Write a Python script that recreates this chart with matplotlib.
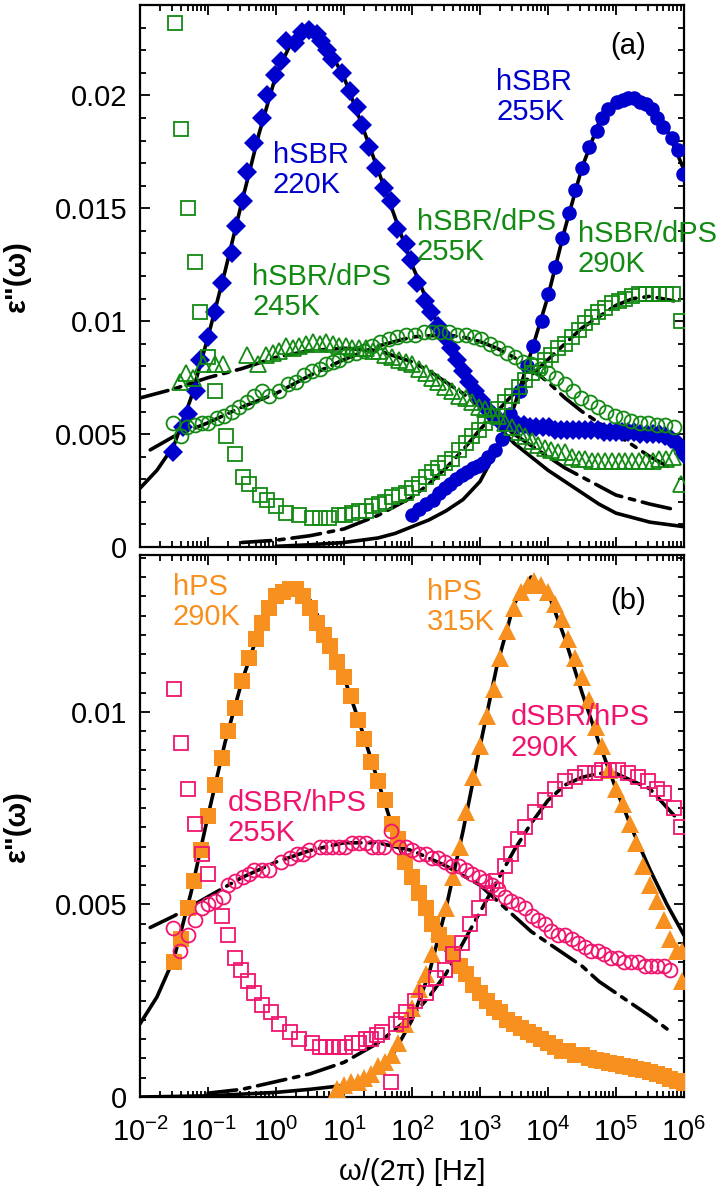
import numpy as np
from matplotlib import pyplot as plt
from matplotlib.ticker import FuncFormatter, LogLocator, MultipleLocator, NullFormatter

plt.rcParams['font.family'] = ['Liberation Sans', 'DejaVu Sans']
plt.rcParams['mathtext.fontset'] = 'custom'
plt.rcParams['mathtext.rm'] = 'Liberation Sans'
plt.rcParams['mathtext.it'] = 'Liberation Sans:italic'

BLUE = '#0000cc'
GREEN = '#138a13'
ORANGE = '#f7901e'
PINK = '#f0146e'

# ---------------- panel (a): hSBR and hSBR/dPS ----------------
# log10 of frequency [Hz] and eps''
a_hsbr220_logf = [-1.52, -1.37, -1.30, -1.18, -1.12, -1.00, -0.90, -0.80, -0.65, -0.59,
                  -0.49, -0.43, -0.32, -0.21, -0.13, -0.02, 0.08, 0.15, 0.28, 0.38,
                  0.49, 0.60, 0.66, 0.75, 0.83, 0.97, 1.09, 1.19, 1.27, 1.37,
                  1.47, 1.59, 1.69, 1.78, 1.91, 1.98, 2.07, 2.19, 2.28, 2.39,
                  2.48, 2.57, 2.66, 2.75, 2.84, 2.93, 3.02, 3.11, 3.20, 3.29,
                  3.38, 3.47, 3.56, 3.65, 3.74, 3.83, 3.92, 4.01, 4.10, 4.19,
                  4.28, 4.37, 4.46, 4.55, 4.64, 4.73, 4.82, 4.91, 5.00, 5.09,
                  5.18, 5.27, 5.36, 5.45, 5.54, 5.63, 5.72, 5.81, 5.90, 6.00]
a_hsbr220_eps = [0.0042, 0.0053, 0.0059, 0.0069, 0.0083, 0.0093, 0.0104, 0.0117, 0.0130, 0.0142,
                 0.0153, 0.0166, 0.0179, 0.0190, 0.0200, 0.0209, 0.0215, 0.0224, 0.0223, 0.0228,
                 0.0229, 0.0227, 0.0224, 0.0220, 0.0216, 0.0210, 0.0202, 0.0195, 0.0187, 0.0177,
                 0.0168, 0.0159, 0.0153, 0.0141, 0.0134, 0.0127, 0.0117, 0.0109, 0.0104, 0.0098,
                 0.0093, 0.0088, 0.0083, 0.0078, 0.0073, 0.0069, 0.0065, 0.0061, 0.0058, 0.0056,
                 0.0055, 0.0055, 0.0054, 0.0054, 0.0053, 0.0053, 0.0053, 0.0053, 0.0052, 0.0052,
                 0.0052, 0.0052, 0.0052, 0.0052, 0.0052, 0.0052, 0.0051, 0.0051, 0.0051, 0.0051,
                 0.0051, 0.0051, 0.0050, 0.0050, 0.0050, 0.0050, 0.0049, 0.0048, 0.0046, 0.0041]

a_hsbr255_logf = [2.00, 2.10, 2.20, 2.31, 2.40, 2.48, 2.56, 2.65, 2.73, 2.81,
                  2.90, 2.97, 3.04, 3.12, 3.22, 3.32, 3.44, 3.59, 3.69, 3.78,
                  3.91, 4.00, 4.10, 4.21, 4.31, 4.40, 4.50, 4.60, 4.72, 4.79,
                  4.88, 5.01, 5.10, 5.18, 5.27, 5.35, 5.44, 5.53, 5.61, 5.69,
                  5.82, 5.91, 5.99]
a_hsbr255_eps = [0.0014, 0.0017, 0.0019, 0.0021, 0.0024, 0.0026, 0.0028, 0.0030, 0.0032, 0.0033,
                 0.0035, 0.0036, 0.0037, 0.0040, 0.0043, 0.0048, 0.0059, 0.0069, 0.0080, 0.0089,
                 0.0100, 0.0112, 0.0124, 0.0137, 0.0148, 0.0158, 0.0168, 0.0177, 0.0184, 0.0190,
                 0.0194, 0.0197, 0.0198, 0.0199, 0.0199, 0.0197, 0.0196, 0.0194, 0.0190, 0.0186,
                 0.0181, 0.0176, 0.0165]

a_blend245_logf = [-1.41, -1.32, -1.22, -1.08, -0.90, -0.78, -0.42, -0.27, -0.14, -0.05,
                   0.05, 0.15, 0.25, 0.34, 0.44, 0.54, 0.64, 0.74, 0.84, 0.93,
                   1.03, 1.12, 1.22, 1.32, 1.42, 1.51, 1.61, 1.71, 1.81, 1.91,
                   2.00, 2.10, 2.20, 2.29, 2.39, 2.49, 2.59, 2.69, 2.79, 2.88,
                   2.98, 3.08, 3.18, 3.27, 3.37, 3.47, 3.57, 3.66, 3.76, 3.86,
                   3.96, 4.05, 4.15, 4.25, 4.35, 4.45, 4.55, 4.65, 4.74, 4.84,
                   4.94, 5.04, 5.14, 5.24, 5.34, 5.44, 5.54, 5.64, 5.74, 5.84, 5.96]
a_blend245_eps = [0.0073, 0.0077, 0.0075, 0.0081, 0.0081, 0.0081, 0.0085, 0.0081, 0.0085, 0.0086,
                  0.0087, 0.0089, 0.0088, 0.0089, 0.0090, 0.0091, 0.0090, 0.0091, 0.0090, 0.0089,
                  0.0089, 0.0088, 0.0088, 0.0088, 0.0087, 0.0087, 0.0085, 0.0084, 0.0083, 0.0082,
                  0.0081, 0.0079, 0.0077, 0.0075, 0.0073, 0.0071, 0.0069, 0.0067, 0.0066, 0.0064,
                  0.0062, 0.0061, 0.0059, 0.0058, 0.0055, 0.0053, 0.0051, 0.0049, 0.0047, 0.0045,
                  0.0044, 0.0043, 0.0042, 0.0042, 0.0040, 0.0039, 0.0039, 0.0038, 0.0038, 0.0038,
                  0.0038, 0.0038, 0.0038, 0.0038, 0.0038, 0.0038, 0.0038, 0.0039, 0.0039, 0.0040, 0.0028]

a_blend255_logf = [-1.51, -1.39, -1.31, -1.19, -1.09, -1.00, -0.87, -0.76, -0.65, -0.54,
                   -0.43, -0.32, -0.20, -0.10, 0.05, 0.17, 0.30, 0.41, 0.53, 0.64,
                   0.74, 0.84, 0.93, 1.05, 1.18, 1.29, 1.41, 1.53, 1.66, 1.78,
                   1.91, 2.05, 2.17, 2.29, 2.41, 2.54, 2.66, 2.79, 2.91, 3.02,
                   3.15, 3.27, 3.40, 3.52, 3.64, 3.75, 3.88, 4.00, 4.12, 4.25,
                   4.37, 4.49, 4.62, 4.74, 4.86, 4.98, 5.10, 5.22, 5.35, 5.47,
                   5.60, 5.72, 5.86]
a_blend255_eps = [0.0055, 0.0049, 0.0053, 0.0054, 0.0055, 0.0055, 0.0057, 0.0058, 0.0060, 0.0062,
                  0.0064, 0.0067, 0.0069, 0.0067, 0.0069, 0.0072, 0.0073, 0.0076, 0.0078, 0.0079,
                  0.0081, 0.0082, 0.0083, 0.0085, 0.0086, 0.0087, 0.0089, 0.0091, 0.0092, 0.0093,
                  0.0094, 0.0094, 0.0095, 0.0095, 0.0095, 0.0095, 0.0094, 0.0094, 0.0093, 0.0092,
                  0.0090, 0.0088, 0.0086, 0.0084, 0.0082, 0.0081, 0.0079, 0.0077, 0.0075, 0.0072,
                  0.0069, 0.0066, 0.0064, 0.0062, 0.0060, 0.0058, 0.0057, 0.0056, 0.0055, 0.0055,
                  0.0054, 0.0054, 0.0053]

a_blend290_logf = [-1.49, -1.39, -1.30, -1.19, -1.12, -1.00, -0.90, -0.73, -0.61, -0.49,
                   -0.39, -0.24, -0.13, 0.00, 0.15, 0.34, 0.53, 0.65, 0.78, 0.93,
                   1.02, 1.12, 1.22, 1.32, 1.41, 1.51, 1.61, 1.70, 1.81, 1.91,
                   2.00, 2.10, 2.20, 2.29, 2.39, 2.49, 2.59, 2.69, 2.79, 2.88,
                   2.98, 3.08, 3.18, 3.27, 3.37, 3.47, 3.57, 3.66, 3.76, 3.86,
                   3.96, 4.05, 4.15, 4.25, 4.35, 4.45, 4.55, 4.65, 4.74, 4.84,
                   4.94, 5.04, 5.14, 5.24, 5.34, 5.44, 5.54, 5.64, 5.74, 5.84, 5.96]
a_blend290_eps = [0.0232, 0.0185, 0.0150, 0.0126, 0.0104, 0.0084, 0.0069, 0.0049, 0.0041, 0.0031,
                  0.0028, 0.0023, 0.0021, 0.0018, 0.0015, 0.0014, 0.0013, 0.0013, 0.0013, 0.0014,
                  0.0014, 0.0015, 0.0016, 0.0016, 0.0018, 0.0019, 0.0020, 0.0022, 0.0023, 0.0024,
                  0.0026, 0.0028, 0.0031, 0.0033, 0.0035, 0.0037, 0.0039, 0.0043, 0.0046, 0.0049,
                  0.0052, 0.0055, 0.0058, 0.0061, 0.0064, 0.0067, 0.0071, 0.0074, 0.0077, 0.0080,
                  0.0083, 0.0085, 0.0088, 0.0090, 0.0093, 0.0096, 0.0099, 0.0102, 0.0104, 0.0106,
                  0.0108, 0.0109, 0.0110, 0.0111, 0.0112, 0.0112, 0.0112, 0.0112, 0.0112, 0.0112, 0.0100]

# fit curves, panel (a)
a_fit220_logf = [-2.0, -1.75, -1.5, -1.25, -1.0, -0.75, -0.5, -0.25, 0.0, 0.25, 0.5, 0.75,
                 1.0, 1.25, 1.5, 1.75, 2.0, 2.25, 2.5, 2.75, 3.0, 3.25, 3.5, 3.75, 4.0,
                 4.25, 4.5, 4.75, 5.0, 5.25, 5.5, 5.75, 6.0]
a_fit220_eps = [0.0026, 0.0034, 0.0045, 0.0066, 0.0093, 0.0122, 0.0153, 0.0183, 0.0209, 0.0225,
                0.0229, 0.0222, 0.0208, 0.0188, 0.0167, 0.0146, 0.0125, 0.0107, 0.0091, 0.0076,
                0.0063, 0.0054, 0.0046, 0.0040, 0.0034, 0.0029, 0.0024, 0.0019, 0.0015, 0.0013,
                0.0011, 0.0010, 0.0009]
a_fit255_logf = [0.0, 0.5, 1.0, 1.5, 1.75, 2.0, 2.25, 2.5, 2.75, 3.0, 3.25, 3.5, 3.75, 4.0,
                 4.25, 4.5, 4.75, 5.0, 5.25, 5.5, 5.75, 6.0]
a_fit255_eps = [0.00003, 0.0001, 0.0002, 0.0004, 0.0006, 0.0009, 0.0012, 0.0016, 0.0021, 0.0029,
                0.0043, 0.0062, 0.0086, 0.0111, 0.0141, 0.0168, 0.0188, 0.0198, 0.0200, 0.0196,
                0.0185, 0.0167]
a_fit245_logf = [-2.0, -1.5, -1.0, -0.5, 0.0, 0.5, 1.0, 1.5, 2.0, 2.25, 2.5, 2.75, 3.0, 3.25,
                 3.5, 3.75, 4.0, 4.25, 4.5, 4.75, 5.0, 5.25, 5.5, 5.8]
a_fit245_eps = [0.0066, 0.0070, 0.0075, 0.0079, 0.0084, 0.0087, 0.0088, 0.0087, 0.0082, 0.0078,
                0.0073, 0.0068, 0.0062, 0.0056, 0.0050, 0.0045, 0.0040, 0.0035, 0.0031, 0.0027,
                0.0023, 0.0021, 0.0019, 0.0017]
a_fitb255_logf = [-1.85, -1.5, -1.0, -0.5, 0.0, 0.5, 1.0, 1.5, 2.0, 2.5, 2.75, 3.0, 3.25, 3.5,
                  3.75, 4.0, 4.25, 4.5, 4.75, 5.0, 5.25, 5.5, 5.8]
a_fitb255_eps = [0.0043, 0.0049, 0.0055, 0.0062, 0.0068, 0.0076, 0.0083, 0.0089, 0.0093, 0.0094,
                 0.0093, 0.0091, 0.0088, 0.0084, 0.0079, 0.0073, 0.0066, 0.0060, 0.0055, 0.0050,
                 0.0045, 0.0040, 0.0035]
a_fitb290_logf = [-0.5, 0.0, 0.5, 1.0, 1.5, 1.75, 2.0, 2.25, 2.5, 2.75, 3.0, 3.25, 3.5, 3.75,
                  4.0, 4.25, 4.5, 4.75, 5.0, 5.25, 5.5, 5.85]
a_fitb290_eps = [0.0002, 0.0003, 0.0005, 0.0008, 0.0014, 0.0018, 0.0022, 0.0028, 0.0035, 0.0043,
                 0.0052, 0.0060, 0.0068, 0.0076, 0.0083, 0.0090, 0.0097, 0.0102, 0.0107, 0.0110,
                 0.0111, 0.0109]

# ---------------- panel (b): hPS and dSBR/hPS ----------------
b_hps290_logf = [-1.5, -1.4, -1.3, -1.2, -1.1, -1.0, -0.9, -0.8, -0.7, -0.6,
                 -0.5, -0.4, -0.3, -0.2, -0.1, 0.0, 0.1, 0.2, 0.3, 0.4,
                 0.5, 0.6, 0.7, 0.8, 0.9, 1.0, 1.1, 1.2, 1.3, 1.4,
                 1.5, 1.6, 1.7, 1.8, 1.9, 2.0, 2.1, 2.2, 2.3, 2.4,
                 2.5, 2.6, 2.7, 2.8, 2.9, 3.0, 3.1, 3.2, 3.3, 3.4,
                 3.5, 3.6, 3.7, 3.8, 3.9, 4.0, 4.1, 4.2, 4.3, 4.4,
                 4.5, 4.6, 4.7, 4.8, 4.9, 5.0, 5.1, 5.2, 5.3, 5.4,
                 5.5, 5.6, 5.7, 5.8, 5.9, 6.0]
b_hps290_eps = [0.0035, 0.0041, 0.0049, 0.0056, 0.0064, 0.0073, 0.0081, 0.0088, 0.0095, 0.0101,
                0.0108, 0.0114, 0.0119, 0.0123, 0.0127, 0.0130, 0.0131, 0.0132, 0.0132, 0.0130,
                0.0127, 0.0123, 0.0120, 0.0117, 0.0113, 0.0109, 0.0104, 0.0098, 0.0093, 0.0087,
                0.0082, 0.0077, 0.0071, 0.0067, 0.0061, 0.0057, 0.0053, 0.0049, 0.0045, 0.0042,
                0.0040, 0.0037, 0.0034, 0.0032, 0.0029, 0.0027, 0.0025, 0.0023, 0.0022, 0.0020,
                0.0019, 0.0018, 0.0017, 0.0016, 0.0015, 0.0014, 0.0013, 0.0012, 0.0012, 0.0011,
                0.0011, 0.0010, 0.00097, 0.00093, 0.00089, 0.00085, 0.00081, 0.00078, 0.00074, 0.00069,
                0.00065, 0.00060, 0.00055, 0.00048, 0.00042, 0.00036]

b_hps315_logf = [0.9, 1.0, 1.1, 1.2, 1.3, 1.4, 1.5, 1.6, 1.7, 1.8,
                 1.9, 2.0, 2.1, 2.2, 2.3, 2.4, 2.5, 2.6, 2.7, 2.8,
                 2.9, 3.0, 3.1, 3.2, 3.3, 3.4, 3.5, 3.6, 3.7, 3.8,
                 3.9, 4.0, 4.1, 4.2, 4.3, 4.4, 4.5, 4.6, 4.7, 4.8,
                 4.9, 5.0, 5.1, 5.2, 5.3, 5.4, 5.5, 5.6, 5.7, 5.8,
                 5.9, 5.97, 5.97]
b_hps315_eps = [0.0002, 0.0003, 0.0004, 0.0004, 0.0005, 0.0006, 0.0008, 0.0009, 0.0011, 0.0014,
                0.0019, 0.0023, 0.0028, 0.0032, 0.0037, 0.0043, 0.0049, 0.0057, 0.0065, 0.0074,
                0.0083, 0.0091, 0.0099, 0.0106, 0.0114, 0.0121, 0.0127, 0.0131, 0.0133, 0.0134,
                0.0133, 0.0131, 0.0128, 0.0124, 0.0119, 0.0114, 0.0109, 0.0103, 0.0096, 0.0091,
                0.0085, 0.0080, 0.0076, 0.0071, 0.0066, 0.0060, 0.0055, 0.0051, 0.0046, 0.0041,
                0.0038, 0.0038, 0.0030]

b_blend255_logf = [-1.51, -1.41, -1.29, -1.19, -1.09, -1.00, -0.90, -0.78, -0.71, -0.61,
                   -0.49, -0.40, -0.32, -0.20, -0.10, 0.08, 0.20, 0.31, 0.40, 0.49,
                   0.64, 0.74, 0.83, 0.93, 1.02, 1.12, 1.22, 1.32, 1.41, 1.50,
                   1.59, 1.69, 1.81, 1.91, 2.00, 2.10, 2.20, 2.29, 2.39, 2.49,
                   2.59, 2.69, 2.79, 2.88, 2.98, 3.08, 3.18, 3.27, 3.37, 3.46,
                   3.56, 3.66, 3.76, 3.86, 3.96, 4.05, 4.15, 4.25, 4.35, 4.44,
                   4.54, 4.63, 4.73, 4.83, 4.93, 5.03, 5.12, 5.22, 5.32, 5.42,
                   5.51, 5.61, 5.71, 5.80]
b_blend255_eps = [0.0044, 0.0038, 0.0042, 0.0046, 0.0049, 0.0050, 0.0051, 0.0052, 0.0055, 0.0056,
                  0.0057, 0.0058, 0.0059, 0.0059, 0.0059, 0.0061, 0.0062, 0.0063, 0.0063, 0.0064,
                  0.0065, 0.0065, 0.0065, 0.0065, 0.0065, 0.0066, 0.0066, 0.0066, 0.0065, 0.0065,
                  0.0065, 0.0069, 0.0065, 0.0065, 0.0064, 0.0063, 0.0063, 0.0062, 0.0062, 0.0061,
                  0.0060, 0.0060, 0.0059, 0.0058, 0.0057, 0.0056, 0.0055, 0.0054, 0.0052, 0.0051,
                  0.0050, 0.0049, 0.0047, 0.0046, 0.0045, 0.0043, 0.0042, 0.0042, 0.0041, 0.0040,
                  0.0039, 0.0038, 0.0038, 0.0037, 0.0036, 0.0036, 0.0035, 0.0035, 0.0035, 0.0034,
                  0.0034, 0.0034, 0.0034, 0.0033]

b_blend290_logf = [-1.50, -1.39, -1.30, -1.19, -1.09, -1.00, -0.80, -0.71, -0.61, -0.51,
                   -0.41, -0.32, -0.20, -0.07, 0.05, 0.20, 0.34, 0.53, 0.64, 0.74,
                   0.84, 0.93, 1.02, 1.12, 1.22, 1.32, 1.40, 1.48, 1.56, 1.69,
                   1.76, 1.84, 1.91, 2.05, 2.20, 2.35, 2.49, 2.61, 2.73, 2.86,
                   2.98, 3.10, 3.23, 3.37, 3.46, 3.56, 3.66, 3.81, 3.95, 4.10,
                   4.25, 4.40, 4.54, 4.69, 4.80, 4.90, 5.03, 5.17, 5.32, 5.47,
                   5.61, 5.71, 5.86, 5.95]
b_blend290_eps = [0.0106, 0.0092, 0.0080, 0.0071, 0.0063, 0.0058, 0.0047, 0.0042, 0.0036, 0.0033,
                  0.0030, 0.0027, 0.0024, 0.0022, 0.0019, 0.0017, 0.0015, 0.0014, 0.0013, 0.0013,
                  0.0013, 0.0013, 0.0013, 0.0014, 0.0014, 0.0015, 0.0015, 0.0016, 0.0017, 0.0004,
                  0.0019, 0.0020, 0.0022, 0.0025, 0.0027, 0.0031, 0.0033, 0.0037, 0.0040, 0.0045,
                  0.0049, 0.0053, 0.0056, 0.0060, 0.0063, 0.0067, 0.0070, 0.0074, 0.0077, 0.0080,
                  0.0082, 0.0083, 0.0084, 0.0084, 0.0085, 0.0085, 0.0085, 0.0084, 0.0083, 0.0082,
                  0.0080, 0.0079, 0.0075, 0.0070]

# fit curves, panel (b)
b_fit290_logf = [-2.0, -1.75, -1.5, -1.25, -1.0, -0.75, -0.5, -0.25, 0.0, 0.25, 0.5, 0.75,
                 1.0, 1.25, 1.5, 1.75, 2.0, 2.25, 2.5, 2.75]
b_fit290_eps = [0.0019, 0.0026, 0.0036, 0.0053, 0.0073, 0.0092, 0.0108, 0.0121, 0.0129, 0.0132,
                0.0129, 0.0120, 0.0109, 0.0096, 0.0082, 0.0068, 0.0056, 0.0046, 0.0038, 0.0032]
b_fit315_logf = [-2.0, -1.0, 0.0, 0.5, 1.0, 1.25, 1.5, 1.75, 2.0, 2.25, 2.5, 2.75, 3.0, 3.25,
                 3.5, 3.75, 4.0, 4.25, 4.5, 4.75, 5.0, 5.25, 5.5, 5.75, 6.0]
b_fit315_eps = [0.0, 0.00003, 0.00012, 0.0002, 0.0003, 0.0004, 0.0007, 0.0012, 0.0020, 0.0032,
                0.0049, 0.0069, 0.0091, 0.0112, 0.0128, 0.0135, 0.0131, 0.0119, 0.0105, 0.0092,
                0.0080, 0.0069, 0.0059, 0.0050, 0.0042]
b_fitb255_logf = [-1.85, -1.5, -1.0, -0.5, 0.0, 0.5, 1.0, 1.5, 2.0, 2.5, 3.0, 3.25, 3.5, 3.75,
                  4.0, 4.25, 4.5, 4.75, 5.0, 5.25, 5.5, 5.8]
b_fitb255_eps = [0.0044, 0.0047, 0.0052, 0.0057, 0.0061, 0.0064, 0.0066, 0.0066, 0.0064, 0.0060,
                 0.0055, 0.0051, 0.0047, 0.0043, 0.0040, 0.0037, 0.0034, 0.0030, 0.0027, 0.0024,
                 0.0021, 0.0017]
b_fitb290_logf = [-1.0, -0.5, 0.0, 0.5, 1.0, 1.5, 2.0, 2.25, 2.5, 2.75, 3.0, 3.25, 3.5, 3.75,
                  4.0, 4.25, 4.5, 4.75, 5.0, 5.25, 5.5, 5.86]
b_fitb290_eps = [0.0001, 0.0002, 0.0004, 0.0006, 0.0009, 0.0014, 0.0021, 0.0026, 0.0032, 0.0040,
                 0.0048, 0.0056, 0.0064, 0.0071, 0.0077, 0.0081, 0.0083, 0.0084, 0.0084, 0.0082,
                 0.0080, 0.0073]


def hz(logf):
    # stored as log10(f), plotted on a log axis
    return 10.0 ** np.asarray(logf)


DASHDOT = (0, (8, 2.2, 1.5, 2.2))

fig = plt.figure(figsize=(7.25, 11.98), dpi=100)
ax_a = fig.add_axes([0.1931, 0.5434, 0.7503, 0.4524])
ax_b = fig.add_axes([0.1931, 0.0843, 0.7503, 0.4524])

# ---- panel (a)
fit_kw = dict(color='black', lw=2.6, zorder=2, dash_capstyle='round', solid_capstyle='round')
ax_a.plot(hz(a_fit220_logf), a_fit220_eps, '-', **fit_kw)
ax_a.plot(hz(a_fit255_logf), a_fit255_eps, '-', **fit_kw)
ax_a.plot(hz(a_fit245_logf), a_fit245_eps, linestyle=DASHDOT, **fit_kw)
ax_a.plot(hz(a_fitb255_logf), a_fitb255_eps, linestyle=DASHDOT, **fit_kw)
ax_a.plot(hz(a_fitb290_logf), a_fitb290_eps, linestyle=DASHDOT, **fit_kw)

ax_a.plot(hz(a_hsbr220_logf), a_hsbr220_eps, 'D', color=BLUE, ms=10, mew=0, zorder=3)
ax_a.plot(hz(a_hsbr255_logf), a_hsbr255_eps, 'o', color=BLUE, ms=10.5, mew=0, zorder=3)
open_kw = dict(ls='none', mfc='none', mew=1.3, zorder=4)
ax_a.plot(hz(a_blend245_logf), a_blend245_eps, '^', mec=GREEN, ms=11.5, **open_kw)
ax_a.plot(hz(a_blend255_logf), a_blend255_eps, 'o', mec=GREEN, ms=10, **open_kw)
ax_a.plot(hz(a_blend290_logf), a_blend290_eps, 's', mec=GREEN, ms=9.5, **open_kw)

# ---- panel (b)
ax_b.plot(hz(b_fit290_logf), b_fit290_eps, '-', **fit_kw)
ax_b.plot(hz(b_fit315_logf), b_fit315_eps, '-', **fit_kw)
ax_b.plot(hz(b_fitb255_logf), b_fitb255_eps, linestyle=DASHDOT, **fit_kw)
ax_b.plot(hz(b_fitb290_logf), b_fitb290_eps, linestyle=DASHDOT, **fit_kw)

ax_b.plot(hz(b_hps290_logf), b_hps290_eps, 's', color=ORANGE, ms=11, mew=0, zorder=3)
ax_b.plot(hz(b_hps315_logf), b_hps315_eps, '^', color=ORANGE, ms=13.5, mew=0, zorder=3)
ax_b.plot(hz(b_blend255_logf), b_blend255_eps, 'o', mec=PINK, ms=10, **open_kw)
ax_b.plot(hz(b_blend290_logf), b_blend290_eps, 's', mec=PINK, ms=9.5, **open_kw)

# ---- axes styling
for ax in (ax_a, ax_b):
    ax.set_xscale('log')
    ax.set_xlim(1e-2, 1e6)
    ax.xaxis.set_major_locator(LogLocator(base=10, numticks=20))
    ax.xaxis.set_minor_locator(LogLocator(base=10, subs=np.arange(2, 10), numticks=20))
    ax.xaxis.set_minor_formatter(NullFormatter())
    ax.tick_params(which='both', direction='in', top=True, right=True, labelsize=21, width=1.3)
    ax.tick_params(which='major', length=7.5)
    ax.tick_params(which='minor', length=4)
    ax.tick_params(axis='y', pad=9)
    ax.tick_params(axis='x', pad=15)
    ax.yaxis.set_major_formatter(FuncFormatter(lambda v, p: '0' if v == 0 else '%g' % v))
    for sp in ax.spines.values():
        sp.set_linewidth(1.6)
    ax.set_ylabel('ε"(ω)', fontsize=21, fontweight='bold')
    ax.yaxis.set_label_coords(-0.2, 0.5)

ax_a.set_ylim(0, 0.024)
ax_a.yaxis.set_major_locator(MultipleLocator(0.005))
ax_a.yaxis.set_minor_locator(MultipleLocator(0.001))
ax_a.xaxis.set_major_formatter(NullFormatter())

ax_b.set_ylim(0, 0.01407)
ax_b.yaxis.set_major_locator(MultipleLocator(0.005))
ax_b.yaxis.set_minor_locator(MultipleLocator(0.0005))
ax_b.xaxis.set_major_formatter(FuncFormatter(lambda v, p: r'$10^{%d}$' % round(np.log10(v))))
ax_b.set_xlabel('ω/(2π) [Hz]', fontsize=21)
ax_b.xaxis.set_label_coords(0.5, -0.112)

# ---- annotations (left, top of text block in data coords)
txt_kw = dict(fontsize=21, ha='left', va='top', linespacing=1.1)
ax_a.text(hz(-0.05), 0.0180, 'hSBR\n220K', color=BLUE, **txt_kw)
ax_a.text(hz(3.24), 0.0212, 'hSBR\n255K', color=BLUE, **txt_kw)
ax_a.text(hz(-0.35), 0.01257, 'hSBR/dPS\n245K', color=GREEN, **txt_kw)
ax_a.text(hz(2.07), 0.0150, 'hSBR/dPS\n255K', color=GREEN, **txt_kw)
ax_a.text(hz(4.44), 0.01447, 'hSBR/dPS\n290K', color=GREEN, **txt_kw)
ax_a.text(hz(4.91), 0.0228, '(a)', color='black', **txt_kw)

ax_b.text(hz(-1.52), 0.0136, 'hPS\n290K', color=ORANGE, **txt_kw)
ax_b.text(hz(2.22), 0.01347, 'hPS\n315K', color=ORANGE, **txt_kw)
ax_b.text(hz(3.45), 0.01022, 'dSBR/hPS\n290K', color=PINK, **txt_kw)
ax_b.text(hz(-0.71), 0.0080, 'dSBR/hPS\n255K', color=PINK, **txt_kw)
ax_b.text(hz(4.91), 0.01323, '(b)', color='black', **txt_kw)

fig.savefig('out.png', dpi=100)
